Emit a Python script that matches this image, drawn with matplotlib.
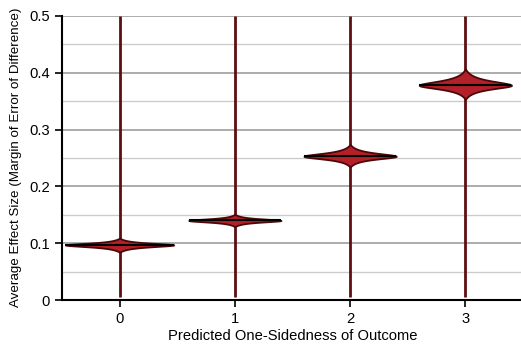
import numpy as np
import matplotlib.pyplot as plt

plt.rcParams['font.family'] = ['Liberation Sans', 'DejaVu Sans']
plt.rcParams['font.size'] = 10.6

# violin summary
groups = [0, 1, 2, 3]
medians = [0.097, 0.140, 0.253, 0.378]
lows = [0.084, 0.129, 0.234, 0.353]
highs = [0.109, 0.151, 0.274, 0.407]
half_widths = [0.47, 0.40, 0.40, 0.40]
whisker_lo = [0.005, 0.005, 0.005, 0.005]
whisker_hi = [0.5, 0.5, 0.5, 0.5]
yticks = [0, 0.1, 0.2, 0.3, 0.4, 0.5]
ytick_labels = ['0', '0.1', '0.2', '0.3', '0.4', '0.5']
minor_ticks = [0.05, 0.15, 0.25, 0.35, 0.45]

fill_col = '#b3202a'
edge_col = '#4a0808'
stem_col = '#5e0e10'

fig = plt.figure(figsize=(5.21, 3.49), dpi=100)
ax = fig.add_axes([62 / 521, 1 - 300 / 349, 461 / 521, 284 / 349])

ax.set_xlim(-0.5, 3.5)
ax.set_ylim(0, 0.5)
ax.set_yticks(yticks)
ax.set_yticklabels(ytick_labels)
ax.set_yticks(minor_ticks, minor=True)
ax.grid(which='major', axis='y', color='#a6a6a6', lw=1.3, zorder=0)
ax.grid(which='minor', axis='y', color='#cccccc', lw=1.0, zorder=0)
ax.tick_params(which='minor', left=False)
ax.tick_params(which='major', direction='out', length=5, width=1.2, color='black')
ax.set_xticks(groups)

for s in ['top', 'right']:
    ax.spines[s].set_visible(False)
for s in ['left', 'bottom']:
    ax.spines[s].set_linewidth(1.5)

for g, m, lo, hi, w, wl, wh in zip(groups, medians, lows, highs, half_widths, whisker_lo, whisker_hi):
    ax.plot([g, g], [wl, wh], color=stem_col, lw=2, zorder=2, solid_capstyle='butt')
    # peaked density profile between lo and hi
    y = np.linspace(lo, hi, 300)
    d = np.where(y >= m, (y - m) / (hi - m), (m - y) / (m - lo))
    a = 3.0
    base = 1 / (1 + a ** 2)
    prof = w * (1 / (1 + (a * d) ** 2) - base) / (1 - base)
    ax.fill_betweenx(y, g - prof, g + prof, facecolor=fill_col, edgecolor=edge_col, lw=1.3, zorder=3)
    ax.plot([g - w, g + w], [m, m], color='black', lw=1.5, zorder=4, solid_capstyle='butt')

ax.set_xlabel('Predicted One-Sidedness of Outcome', labelpad=2)
fig.text(16 / 521, 1 - 157 / 349, 'Average Effect Size (Margin of Error of Difference)',
         rotation=90, ha='center', va='center', fontsize=9.6)

fig.savefig('out.png', dpi=100)
